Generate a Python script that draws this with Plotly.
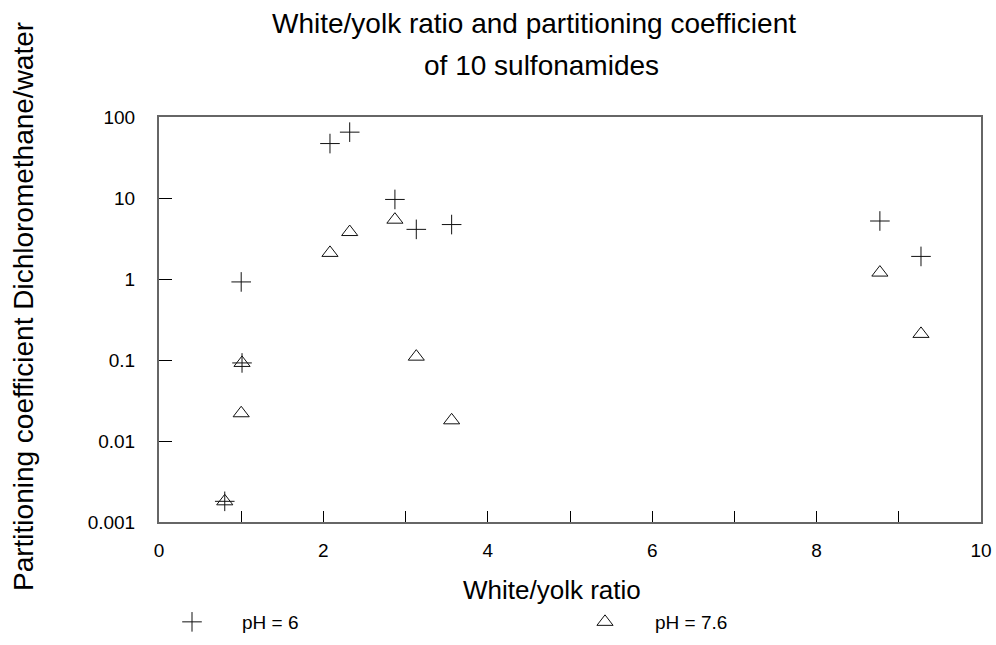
import plotly.graph_objects as go

ratio = [0.80, 1.00, 1.01, 2.08, 2.32, 2.87, 3.13, 3.56, 8.77, 9.27]
ph6 = [0.0018, 0.92, 0.092, 47, 65, 9.6, 4.1, 4.7, 5.2, 1.9]
ph76 = [0.0018, 0.022, 0.092, 2.1, 3.8, 5.4, 0.11, 0.018, 1.2, 0.21]
ytick_vals = [0.001, 0.01, 0.1, 1, 10, 100]
ytick_text = ["0.001", "0.01", "0.1", "1", "10", "100"]
xtick_vals = [0, 2, 4, 6, 8, 10]
xminor_vals = [1, 3, 5, 7, 9]

FONT = "Liberation Sans, Arial, sans-serif"
W, H = 996, 645
L, R, T, B = 159, 15, 117, 123
PW, PH = W - L - R, H - T - B


def px(x):
    return (x - L) / PW


def py(y):
    return 1 - (y - T) / PH


fig = go.Figure()
fig.add_trace(go.Scatter(
    x=ratio, y=ph6, mode="markers", name="pH = 6", legend="legend",
    marker=dict(symbol="cross-thin", size=14, color="black",
                line=dict(color="#111", width=1)),
))
fig.add_trace(go.Scatter(
    x=ratio, y=ph76, mode="markers", name="pH = 7.6", legend="legend2",
    marker=dict(symbol="triangle-up-open", size=14, color="#111",
                line=dict(width=1)),
))

leg_common = dict(orientation="h", xref="container", yref="container",
                  yanchor="middle", xanchor="left", itemwidth=90,
                  bgcolor="rgba(0,0,0,0)", borderwidth=0,
                  font=dict(size=19, family=FONT, color="black"))

fig.update_layout(
    width=W, height=H,
    margin=dict(l=L, r=R, t=T, b=B, autoexpand=False),
    paper_bgcolor="white", plot_bgcolor="white",
    font=dict(family=FONT, color="black", size=19),
    showlegend=True,
    legend=dict(x=(192 - 50) / W, y=1 - 622 / H, **leg_common),
    legend2=dict(x=(605 - 50) / W, y=1 - 622 / H, **leg_common),
    xaxis=dict(range=[0, 10], tickmode="array", tickvals=xtick_vals,
               ticks="inside", ticklen=11, tickcolor="black", tickwidth=1,
               ticklabelstandoff=10,
               minor=dict(tickmode="array", tickvals=xminor_vals, ticks="inside",
                          ticklen=11, tickcolor="black", tickwidth=1),
               showline=True, linecolor="#666", linewidth=2, mirror=True,
               showgrid=False, zeroline=False, tickfont=dict(size=19)),
    yaxis=dict(type="log", range=[-3, 2], tickmode="array", tickvals=ytick_vals,
               ticktext=ytick_text, ticks="inside", ticklen=13, tickcolor="black",
               tickwidth=1, ticklabelstandoff=18,
               showline=True, linecolor="#666", linewidth=2, mirror=True,
               showgrid=False, zeroline=False, tickfont=dict(size=19)),
    annotations=[
        dict(text="White/yolk ratio and partitioning coefficient", x=px(534), y=py(23),
             font=dict(size=28)),
        dict(text="of 10 sulfonamides", x=px(541), y=py(66), font=dict(size=28)),
        dict(text="White/yolk ratio", x=px(552), y=py(590), font=dict(size=26)),
        dict(text="Partitioning coefficient Dichloromethane/water", x=px(23), y=py(307),
             textangle=-90, font=dict(size=28)),
    ],
)
fig.update_annotations(xref="paper", yref="paper", showarrow=False,
                       xanchor="center", yanchor="middle")

fig.write_html("out.html",
               config={"displayModeBar": False},
               post_script="document.body.style.margin='0';document.body.style.padding='0';")
